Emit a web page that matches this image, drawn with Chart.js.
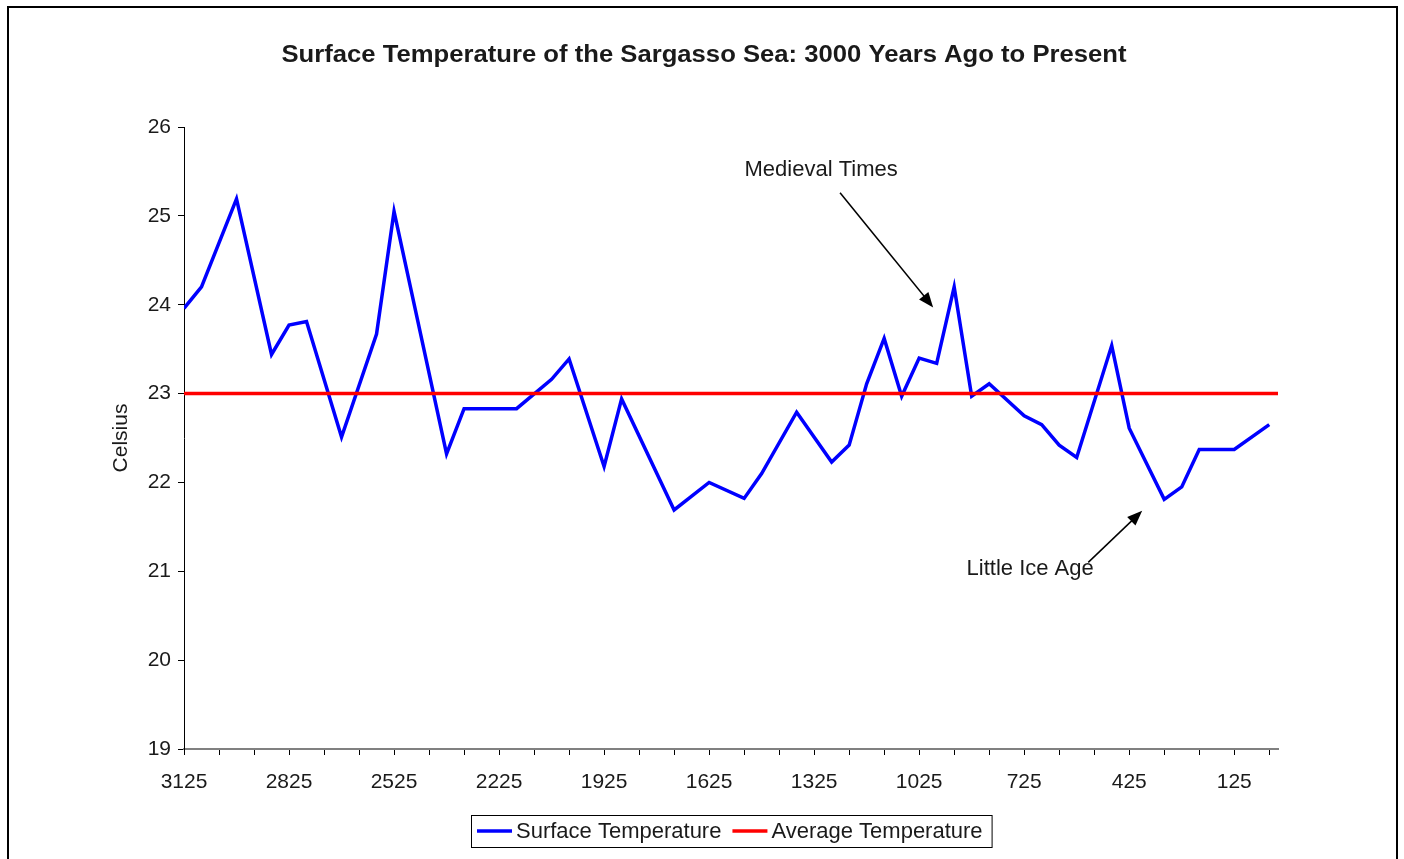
<!DOCTYPE html>
<html>
<head>
<meta charset="utf-8">
<script src="https://cdn.jsdelivr.net/npm/chart.js@4.4.1/dist/chart.umd.min.js"></script>
<style>
  html, body { margin: 0; padding: 0; background: #fff; }
  #wrap { width: 1404px; height: 859px; }
</style>
</head>
<body>
<div id="wrap"><canvas id="chart" width="1404" height="859"></canvas></div>
<script>
// ─── data: years before present / surface temperature (°C) ───
const years = [3125, 3075, 2975, 2875, 2825, 2775, 2675, 2575, 2525, 2375, 2325, 2175, 2075, 2025,
  1925, 1875, 1725, 1625, 1525, 1475, 1375, 1275, 1225, 1175, 1125, 1075, 1025, 975, 925, 875, 825,
  725, 675, 625, 575, 475, 425, 325, 275, 225, 125, 25];
const temps = [23.96, 24.20, 25.19, 23.44, 23.77, 23.81, 22.51, 23.67, 25.05, 22.32, 22.83, 22.83, 23.16, 23.39,
  22.18, 22.94, 21.69, 22.00, 21.82, 22.10, 22.79, 22.23, 22.42, 23.11, 23.62, 22.97, 23.40, 23.34, 24.20, 22.97, 23.11,
  22.75, 22.65, 22.42, 22.28, 23.54, 22.61, 21.81, 21.95, 22.37, 22.37, 22.65];

// average line
const avgYears = [3125, 0];
const avgTemps = [23, 23];

// axis labels
const xTickLabels = [3125, 2825, 2525, 2225, 1925, 1625, 1325, 1025, 725, 425, 125];
const yMin = 19;
const yMax = 26;

const FONT = "'Liberation Sans', Arial, sans-serif";
const TEXT = "#1a1a1a";
Chart.defaults.font.family = FONT;

// tick marks every 100 years, labels every 300
const tickYears = [];
for (let y = 3125; y > 0; y -= 100) tickYears.push(y);

function arrow(ctx, x1, y1, x2, y2) {
  const a = Math.atan2(y2 - y1, x2 - x1);
  const len = 15, half = 6;
  ctx.beginPath();
  ctx.moveTo(x1, y1);
  ctx.lineTo(x2 - Math.cos(a) * len * 0.8, y2 - Math.sin(a) * len * 0.8);
  ctx.stroke();
  ctx.beginPath();
  ctx.moveTo(x2, y2);
  ctx.lineTo(x2 - Math.cos(a) * len - Math.sin(a) * half, y2 - Math.sin(a) * len + Math.cos(a) * half);
  ctx.lineTo(x2 - Math.cos(a) * len + Math.sin(a) * half, y2 - Math.sin(a) * len - Math.cos(a) * half);
  ctx.closePath();
  ctx.fill();
}

const decorations = {
  id: "decorations",
  beforeDraw(chart) {
    const ctx = chart.ctx;
    ctx.save();
    ctx.fillStyle = "#fff";
    ctx.fillRect(0, 0, chart.width, chart.height);
    ctx.strokeStyle = "#000";
    ctx.lineWidth = 2;
    ctx.strokeRect(8, 7, 1389, 880);
    ctx.restore();
  },
  afterDraw(chart) {
    const ctx = chart.ctx;
    const xs = chart.scales.x, ys = chart.scales.y;
    const px = v => xs.getPixelForValue(v), py = v => ys.getPixelForValue(v);
    ctx.save();

    // title (stretched a little wider, like the original)
    const title = "Surface Temperature of the Sargasso Sea: 3000 Years Ago to Present";
    ctx.fillStyle = TEXT;
    ctx.font = "bold 23px " + FONT;
    ctx.textAlign = "center";
    ctx.textBaseline = "middle";
    const tw = ctx.measureText(title).width;
    ctx.save();
    ctx.translate(704, 56);
    ctx.scale(845 / tw, 1);
    ctx.fillText(title, 0, 0);
    ctx.restore();

    // annotations
    ctx.font = "22px " + FONT;
    ctx.fillText("Medieval Times", px(1305), py(25.52));
    ctx.fillText("Little Ice Age", px(708), py(21.03));
    ctx.strokeStyle = "#000";
    ctx.fillStyle = "#000";
    ctx.lineWidth = 1.5;
    arrow(ctx, px(1251), py(25.26), px(985), py(23.97));
    arrow(ctx, px(542), py(21.10), px(388), py(21.68));

    // legend
    ctx.font = "22px " + FONT;
    const sample = 35, gap = 4, between = 11, padL = 6, padR = 9;
    const items = chart.data.datasets.map(d => ({ label: d.label, color: d.borderColor, w: ctx.measureText(d.label).width }));
    let total = padL + padR;
    items.forEach((it, i) => { total += sample + gap + it.w + (i ? between : 0); });
    const cx = (chart.chartArea.left + chart.chartArea.right) / 2;
    const left = Math.round(cx - total / 2), top = 815, h = 32, mid = top + h / 2;
    ctx.fillStyle = "#fff";
    ctx.fillRect(left, top, total, h);
    ctx.strokeStyle = "#000";
    ctx.lineWidth = 1;
    ctx.strokeRect(left + 0.5, top + 0.5, total, h);
    let x = left + padL;
    ctx.textAlign = "left";
    items.forEach((it, i) => {
      if (i) x += between;
      ctx.strokeStyle = it.color;
      ctx.lineWidth = 3.5;
      ctx.beginPath();
      ctx.moveTo(x, mid);
      ctx.lineTo(x + sample, mid);
      ctx.stroke();
      x += sample + gap;
      ctx.fillStyle = TEXT;
      ctx.fillText(it.label, x, mid + 1);
      x += it.w;
    });
    ctx.restore();
  }
};

new Chart(document.getElementById("chart"), {
  type: "line",
  data: {
    datasets: [
      {
        label: "Surface Temperature",
        data: years.map((x, i) => ({ x, y: temps[i] })),
        borderColor: "#0000ff",
        borderWidth: 3.5,
        pointRadius: 0,
        tension: 0,
        order: 1
      },
      {
        label: "Average Temperature",
        data: avgYears.map((x, i) => ({ x, y: avgTemps[i] })),
        borderColor: "#ff0000",
        borderWidth: 3.5,
        pointRadius: 0,
        order: 0
      }
    ]
  },
  options: {
    responsive: false,
    animation: false,
    layout: { padding: { left: 100, right: 126, top: 127, bottom: 0 } },
    plugins: { legend: { display: false }, tooltip: { enabled: false } },
    scales: {
      x: {
        type: "linear",
        reverse: true,
        min: 0,
        max: 3125,
        afterBuildTicks: s => { s.ticks = tickYears.map(v => ({ value: v })); },
        afterFit: s => { s.height = 110; },
        ticks: {
          autoSkip: false,
          maxRotation: 0,
          padding: 15,
          color: TEXT,
          font: { size: 21 },
          callback: v => xTickLabels.includes(v) ? String(v) : ""
        },
        grid: { drawOnChartArea: false, tickLength: 6, color: "#000", lineWidth: 1 },
        border: { color: "#808080", width: 2 }
      },
      y: {
        min: yMin,
        max: yMax,
        afterFit: s => { s.width = 84; },
        ticks: { stepSize: 1, padding: 7, color: TEXT, font: { size: 21 } },
        grid: { drawOnChartArea: false, tickLength: 6, color: "#000", lineWidth: 1 },
        border: { color: "#000", width: 1 },
        title: { display: true, text: "Celsius", color: TEXT, font: { size: 21 }, padding: { top: 9, bottom: 0 } }
      }
    }
  },
  plugins: [decorations]
});
</script>
</body>
</html>
